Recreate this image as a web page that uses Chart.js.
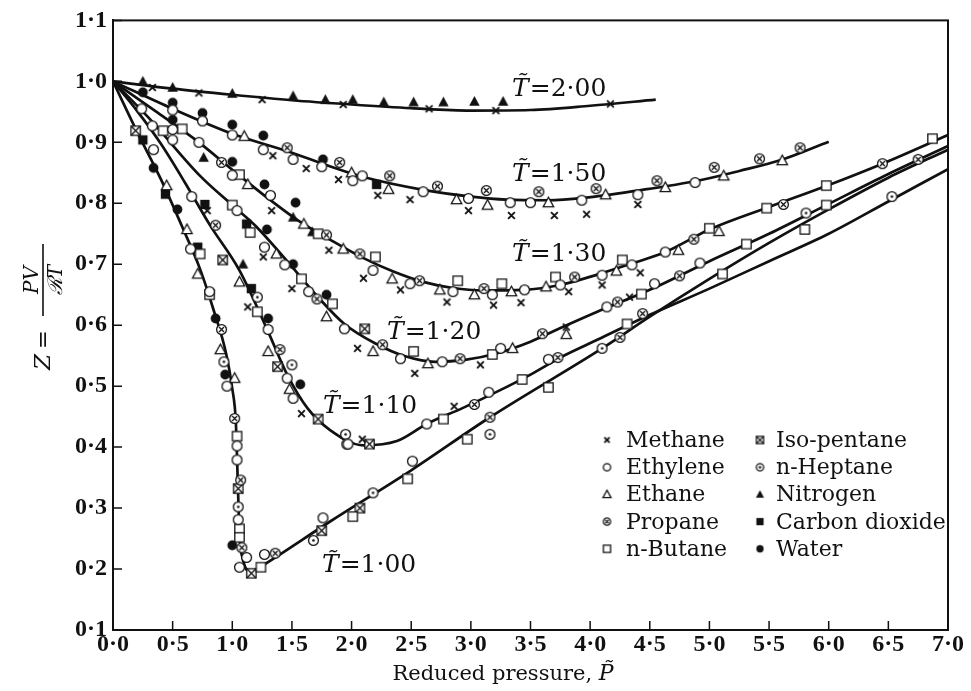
<!DOCTYPE html>
<html>
<head>
<meta charset="utf-8">
<script src="https://cdn.jsdelivr.net/npm/chart.js@4.4.1/dist/chart.umd.min.js"></script>
<style>
  html, body { margin: 0; padding: 0; background: #fff; }
  #wrap { width: 971px; height: 691px; }
</style>
</head>
<body>
<div id="wrap"><canvas id="zChart" width="971" height="691"></canvas></div>
<script>
// isotherms (reduced temperature), smooth curves
var t200X = [0, 0.5, 1.0, 1.5, 2.0, 2.5, 3.0, 3.5, 4.0, 4.55];
var t200Y = [1.0, 0.988, 0.978, 0.969, 0.962, 0.956, 0.952, 0.953, 0.96, 0.970];

var t150X = [0, 0.5, 1.0, 1.5, 1.8, 2.1, 2.6, 3.0, 3.3, 3.65, 3.95, 4.4, 4.9, 5.25, 5.6, 6.0];
var t150Y = [1.0, 0.955, 0.914, 0.883, 0.862, 0.843, 0.822, 0.811, 0.806, 0.805, 0.809, 0.821, 0.837, 0.853, 0.871, 0.901];

var t130X = [0, 0.35, 0.72, 1.0, 1.3, 1.55, 1.84, 2.1, 2.35, 2.6, 2.85, 3.1, 3.44, 3.75, 4.06, 4.33, 4.63, 5.0, 5.5, 6.0, 6.45, 7.0];
var t130Y = [1.0, 0.952, 0.9, 0.855, 0.808, 0.772, 0.738, 0.71, 0.688, 0.671, 0.661, 0.657, 0.658, 0.666, 0.683, 0.70, 0.72, 0.757, 0.794, 0.83, 0.865, 0.912];

var t120X = [0, 0.3, 0.73, 1.0, 1.2, 1.46, 1.71, 1.94, 2.2, 2.45, 2.7, 2.95, 3.22, 3.5, 3.77, 4.06, 4.5, 5.0, 5.5, 6.0, 6.5, 7.0];
var t120Y = [1.0, 0.94, 0.845, 0.797, 0.762, 0.705, 0.648, 0.602, 0.57, 0.549, 0.54, 0.543, 0.554, 0.573, 0.597, 0.622, 0.658, 0.705, 0.75, 0.799, 0.848, 0.894];

var t110X = [0, 0.2, 0.4, 0.6, 0.81, 1.06, 1.29, 1.46, 1.63, 1.82, 2.1, 2.38, 2.63, 2.93, 3.22, 3.5, 3.77, 4.06, 4.5, 5.0, 5.5, 6.0, 6.5, 7.0];
var t110Y = [1.0, 0.952, 0.898, 0.835, 0.765, 0.69, 0.594, 0.519, 0.464, 0.428, 0.403, 0.41, 0.438, 0.464, 0.491, 0.519, 0.549, 0.576, 0.617, 0.66, 0.705, 0.75, 0.803, 0.856];

var t100X = [0, 0.2, 0.4, 0.59, 0.73, 0.84, 0.95, 1.0, 1.03, 1.045, 1.06, 1.09, 1.16, 1.24, 1.82, 2.5, 3.16, 4.1, 4.5, 5.0, 5.5, 6.0, 6.5, 7.0];
var t100Y = [1.0, 0.918, 0.84, 0.757, 0.692, 0.627, 0.552, 0.496, 0.44, 0.35, 0.26, 0.215, 0.195, 0.204, 0.278, 0.362, 0.449, 0.562, 0.614, 0.676, 0.735, 0.79, 0.842, 0.888];

// curve labels: text and anchor (data units, left end / baseline)
var curveNames = ['2·00', '1·50', '1·30', '1·20', '1·10', '1·00'];
var curveLabelX = [3.345, 3.345, 3.345, 2.297, 1.76, 1.752];
var curveLabelY = [0.976, 0.837, 0.705, 0.578, 0.456, 0.195];

// measured points, [reduced pressure, Z]
var methane = [[0.33,0.99],[0.72,0.981],[1.25,0.97],[1.93,0.962],[2.65,0.955],[3.21,0.952],[4.17,0.963],
  [1.34,0.878],[1.62,0.857],[1.89,0.839],[2.22,0.813],[2.49,0.806],[2.98,0.788],[3.34,0.78],[3.7,0.78],[3.97,0.782],[4.4,0.798],
  [1.33,0.788],[1.81,0.723],[2.1,0.677],[2.41,0.658],[2.8,0.638],[3.19,0.633],[3.42,0.637],[3.82,0.655],[4.1,0.666],[4.42,0.686],
  [1.26,0.712],[1.5,0.66],[2.05,0.562],[2.53,0.521],[3.08,0.535],[3.8,0.597],[4.33,0.646],
  [0.79,0.788],[1.13,0.63],[1.58,0.455],[2.09,0.413],[2.86,0.467]];
var ethylene = [[0.5,0.953],[0.75,0.935],[1.0,0.912],[1.26,0.888],[1.51,0.872],[1.75,0.86],[2.01,0.837],[2.09,0.845],[2.6,0.819],[2.98,0.808],[3.33,0.801],[3.5,0.801],[3.93,0.805],[4.4,0.814],[4.88,0.834],
  [0.24,0.955],[0.5,0.921],[0.72,0.9],[1.0,0.846],[1.32,0.813],[2.18,0.69],[2.49,0.668],[2.85,0.655],[3.18,0.65],[3.45,0.658],[3.75,0.666],[4.1,0.682],[4.35,0.699],[4.63,0.72],
  [0.33,0.927],[0.5,0.904],[1.04,0.788],[1.27,0.728],[1.44,0.699],[1.64,0.655],[1.94,0.594],[2.41,0.545],[2.76,0.54],[3.25,0.562],[4.14,0.63],[4.54,0.668],[4.92,0.702],
  [0.34,0.888],[0.66,0.811],[1.3,0.593],[1.46,0.513],[1.51,0.48],[1.97,0.405],[2.63,0.438],[3.15,0.49],[3.65,0.544],
  [0.65,0.725],[0.81,0.655],[0.955,0.5],[1.04,0.402],[1.04,0.379],[1.05,0.281],[1.06,0.203],[1.12,0.219],[1.27,0.224],[1.76,0.284],[2.51,0.377]];
var ethane = [[1.1,0.91],[2.0,0.85],[2.31,0.823],[2.88,0.806],[3.14,0.797],[3.65,0.801],[4.13,0.814],[4.63,0.826],[5.12,0.845],[5.61,0.87],
  [1.13,0.831],[1.6,0.766],[1.93,0.725],[2.34,0.676],[2.74,0.658],[3.03,0.65],[3.34,0.655],[3.63,0.663],[4.22,0.689],[4.74,0.723],[5.08,0.754],
  [1.37,0.717],[1.79,0.614],[2.18,0.557],[2.64,0.537],[3.35,0.562],[3.8,0.585],
  [1.06,0.671],[1.3,0.557],[1.48,0.495],
  [0.45,0.829],[0.62,0.757],[0.71,0.684],[0.9,0.56],[1.02,0.513]];
var propane = [[1.46,0.891],[1.9,0.867],[2.32,0.845],[2.72,0.828],[3.13,0.821],[3.57,0.819],[4.05,0.824],[4.56,0.837],[5.04,0.859],[5.42,0.873],[5.76,0.891],
  [0.91,0.867],[1.79,0.748],[2.07,0.717],[2.57,0.673],[3.11,0.66],[3.87,0.679],[4.87,0.741],[5.62,0.798],[6.45,0.865],
  [1.71,0.643],[2.26,0.568],[2.91,0.545],[3.6,0.586],[4.23,0.638],[4.75,0.681],[6.75,0.872],
  [0.86,0.764],[1.4,0.56],[1.96,0.405],[3.03,0.47],[3.73,0.547],
  [0.91,0.593],[1.02,0.447],[1.07,0.346],[1.08,0.235],[1.36,0.226],[3.16,0.449],[4.25,0.58],[4.44,0.619]];
var butane = [[0.58,0.922],[1.06,0.847],[1.72,0.75],[2.2,0.712],[2.89,0.673],[3.26,0.668],[3.71,0.679],[4.27,0.707],[5.0,0.759],[5.48,0.792],[5.98,0.829],[6.87,0.906],
  [0.42,0.919],[1.0,0.797],[1.15,0.752],[1.58,0.676],[1.84,0.635],[2.52,0.557],[3.18,0.552],[4.43,0.651],[5.31,0.733],[5.98,0.797],
  [1.21,0.622],[2.77,0.446],[3.43,0.511],[4.31,0.602],
  [0.73,0.717],[0.81,0.65],[1.04,0.418],[1.06,0.266],[1.06,0.252],[1.24,0.203],[2.01,0.286],[2.47,0.348],[2.97,0.413],[3.65,0.498],[5.11,0.684],[5.8,0.757]];
var isopentane = [[0.19,0.919],[0.92,0.707],[1.38,0.532],[1.72,0.446],[2.15,0.405],[2.11,0.594],[1.05,0.332],[1.16,0.193],[2.07,0.30],[1.75,0.263]];
var heptane = [[1.21,0.646],[1.5,0.535],[1.95,0.421],[0.93,0.54],[1.05,0.302],[1.68,0.247],[2.18,0.325],[3.16,0.421],[4.1,0.562],[6.53,0.811],[5.81,0.784]];
var nitrogen = [[0.25,1.0],[0.5,0.99],[1.0,0.98],[1.51,0.976],[1.78,0.97],[2.01,0.97],[2.27,0.966],[2.52,0.966],[2.77,0.966],[3.03,0.967],[3.27,0.967],[1.51,0.777],[1.67,0.753],[0.76,0.875],[1.09,0.70]];
var carbonDioxide = [[2.21,0.831],[1.12,0.766],[1.16,0.66],[0.25,0.904],[0.77,0.798],[0.44,0.815],[0.71,0.728]];
var water = [[0.25,0.982],[0.5,0.965],[0.75,0.948],[1.0,0.929],[1.26,0.911],[1.76,0.872],[0.5,0.937],[1.0,0.868],[1.27,0.831],[1.53,0.801],[1.29,0.757],[1.51,0.70],[1.79,0.65],[1.3,0.611],[1.57,0.503],[0.34,0.858],[0.54,0.79],[0.86,0.611],[0.94,0.519],[1.0,0.239]];

var substances = ['Methane', 'Ethylene', 'Ethane', 'Propane', 'n-Butane', 'Iso-pentane', 'n-Heptane', 'Nitrogen', 'Carbon dioxide', 'Water'];
var markerKinds = ['cross', 'circle', 'triangle', 'circleX', 'square', 'squareX', 'circleDot', 'triFill', 'squareFill', 'circleFill'];
var pointSets = [methane, ethylene, ethane, propane, butane, isopentane, heptane, nitrogen, carbonDioxide, water];

var ink = '#111';

// small canvases used as point styles
function makeMarker(kind, s) {
  var w = Math.ceil(s + 4);
  var c = document.createElement('canvas');
  c.width = w; c.height = w;
  var g = c.getContext('2d');
  var m = w / 2, r = s / 2;
  g.strokeStyle = ink; g.fillStyle = '#fff'; g.lineWidth = 1.3;
  if (kind === 'cross') {
    var k = r * 0.75;
    g.lineWidth = 1.9;
    g.beginPath();
    g.moveTo(m - k, m - k); g.lineTo(m + k, m + k);
    g.moveTo(m + k, m - k); g.lineTo(m - k, m + k);
    g.stroke();
  } else if (kind === 'circle' || kind === 'circleX' || kind === 'circleDot' || kind === 'circleFill') {
    g.beginPath(); g.arc(m, m, r - 0.6, 0, Math.PI * 2);
    if (kind === 'circleFill') { g.fillStyle = ink; g.fill(); }
    else { g.fill(); g.stroke(); }
    if (kind === 'circleX') {
      var q = r * 0.45;
      g.beginPath();
      g.moveTo(m - q, m - q); g.lineTo(m + q, m + q);
      g.moveTo(m + q, m - q); g.lineTo(m - q, m + q);
      g.stroke();
    }
    if (kind === 'circleDot') {
      g.fillStyle = ink; g.beginPath(); g.arc(m, m, 1.3, 0, Math.PI * 2); g.fill();
    }
  } else if (kind === 'triangle' || kind === 'triFill') {
    g.beginPath();
    g.moveTo(m, m - r); g.lineTo(m + r * 0.95, m + r * 0.75); g.lineTo(m - r * 0.95, m + r * 0.75); g.closePath();
    if (kind === 'triFill') { g.fillStyle = ink; g.fill(); }
    else { g.fill(); g.stroke(); }
  } else {
    var h = r * 0.85;
    g.beginPath(); g.rect(m - h, m - h, h * 2, h * 2);
    if (kind === 'squareFill') { g.fillStyle = ink; g.fill(); }
    else { g.fill(); g.stroke(); }
    if (kind === 'squareX') {
      g.beginPath();
      g.moveTo(m - h, m - h); g.lineTo(m + h, m + h);
      g.moveTo(m + h, m - h); g.lineTo(m - h, m + h);
      g.stroke();
    }
  }
  return c;
}

function toXY(xs, ys) {
  return xs.map(function (x, i) { return { x: x, y: ys[i] }; });
}

var datasets = [];
// points first so they sit on top of the curves
for (var i = 0; i < pointSets.length; i++) {
  datasets.push({
    type: 'scatter',
    label: substances[i],
    data: pointSets[i].map(function (p) { return { x: p[0], y: p[1] }; }),
    pointStyle: makeMarker(markerKinds[i], markerKinds[i] === 'cross' ? 9 : 11),
    pointRadius: 5,
    showLine: false
  });
}
var curves = [[t200X, t200Y], [t150X, t150Y], [t130X, t130Y], [t120X, t120Y], [t110X, t110Y], [t100X, t100Y]];
curves.forEach(function (cv, j) {
  datasets.push({
    type: 'line',
    label: 'T ' + curveNames[j],
    data: toXY(cv[0], cv[1]),
    borderColor: ink,
    borderWidth: 2.7,
    pointRadius: 0,
    fill: false,
    cubicInterpolationMode: 'monotone'
  });
});

function dotLabel(v) { return v.toFixed(1).replace('.', '·'); }

// inward ticks + closed frame
var framePlugin = {
  id: 'framePlugin',
  afterDraw: function (chart) {
    var ctx = chart.ctx, a = chart.chartArea;
    var xs = chart.scales.x, ys = chart.scales.y;
    ctx.save();
    ctx.strokeStyle = ink;
    ctx.lineWidth = 2;
    ctx.strokeRect(a.left, a.top, a.right - a.left, a.bottom - a.top);
    ctx.lineWidth = 1.5;
    ctx.beginPath();
    ys.ticks.forEach(function (t) {
      var py = ys.getPixelForValue(t.value);
      ctx.moveTo(a.left, py); ctx.lineTo(a.left + 9, py);
    });
    xs.ticks.forEach(function (t) {
      var px = xs.getPixelForValue(t.value);
      ctx.moveTo(px, a.bottom); ctx.lineTo(px, a.bottom - 9);
    });
    ctx.stroke();
    ctx.restore();
  }
};

// axis titles, curve labels, legend
var textPlugin = {
  id: 'textPlugin',
  afterDraw: function (chart) {
    var ctx = chart.ctx, a = chart.chartArea;
    var xs = chart.scales.x, ys = chart.scales.y;
    ctx.save();
    ctx.fillStyle = ink;

    // curve labels
    ctx.textBaseline = 'alphabetic';
    ctx.textAlign = 'left';
    curveNames.forEach(function (nm, j) {
      var px = xs.getPixelForValue(curveLabelX[j]);
      var py = ys.getPixelForValue(curveLabelY[j]);
      ctx.font = 'italic 25px "DejaVu Serif"';
      ctx.fillText('T\u0303', px, py);
      var w = ctx.measureText('T').width;
      ctx.font = '25px "DejaVu Serif"';
      ctx.fillText('=' + nm, px + w + 1, py);
    });

    // x title
    ctx.font = '21px "DejaVu Serif"';
    var t1 = 'Reduced pressure, ';
    var w1 = ctx.measureText(t1).width;
    ctx.font = 'italic 22px "DejaVu Serif"';
    var w2 = ctx.measureText('P').width;
    var sx = 503 - (w1 + w2) / 2;
    ctx.font = '21px "DejaVu Serif"';
    ctx.fillText(t1, sx, 680);
    ctx.font = 'italic 22px "DejaVu Serif"';
    ctx.fillText('P\u0303', sx + w1, 680);

    // y title: Z = PV / RT, rotated
    ctx.save();
    ctx.translate(a.left - 70, 300);
    ctx.rotate(-Math.PI / 2);
    ctx.textAlign = 'center';
    ctx.textBaseline = 'middle';
    ctx.font = 'italic 23px "DejaVu Serif"';
    ctx.fillText('Z\u2009=', -50, 1);
    ctx.font = 'italic 20px "DejaVu Serif"';
    ctx.textBaseline = 'alphabetic';
    ctx.fillText('PV', 20, -5);
    ctx.textBaseline = 'top';
    ctx.fillText('\u211BT', 20, 4);
    ctx.lineWidth = 1.5;
    ctx.beginPath(); ctx.moveTo(-16, 0); ctx.lineTo(56, 0); ctx.stroke();
    ctx.restore();

    // legend, two columns
    ctx.font = '22px "DejaVu Serif"';
    ctx.textAlign = 'left';
    ctx.textBaseline = 'alphabetic';
    for (var k = 0; k < substances.length; k++) {
      var col = k < 5 ? 0 : 1, row = k % 5;
      var mx = col === 0 ? 607 : 760;
      var tx = col === 0 ? 626 : 776;
      var by = 447 + row * 27.2;
      var mk = makeMarker(markerKinds[k], markerKinds[k] === 'cross' ? 7 : 8.5);
      ctx.drawImage(mk, mx - mk.width / 2, by - 7 - mk.height / 2);
      ctx.fillText(substances[k], tx, by);
    }
    ctx.restore();
  }
};

var tickFont = { family: 'Liberation Serif', size: 24, weight: 'bold' };

new Chart(document.getElementById('zChart').getContext('2d'), {
  type: 'scatter',
  data: { datasets: datasets },
  options: {
    responsive: false,
    animation: false,
    devicePixelRatio: 1,
    layout: { padding: { top: 15, right: 23, bottom: 0, left: 0 } },
    plugins: {
      legend: { display: false },
      tooltip: { enabled: false },
      title: { display: false }
    },
    scales: {
      x: {
        type: 'linear', min: 0, max: 7,
        ticks: { stepSize: 0.5, font: tickFont, color: ink, padding: 0, maxRotation: 0, autoSkip: false, callback: dotLabel },
        grid: { display: false, drawTicks: false },
        border: { display: true, color: ink, width: 2 },
        afterFit: function (s) { s.height = 61; }
      },
      y: {
        type: 'linear', min: 0.1, max: 1.1,
        ticks: { stepSize: 0.1, font: tickFont, color: ink, padding: 6, autoSkip: false, callback: dotLabel },
        grid: { display: false, drawTicks: false },
        border: { display: true, color: ink, width: 2 },
        afterFit: function (s) { s.width = 113; }
      }
    }
  },
  plugins: [framePlugin, textPlugin]
});
</script>
</body>
</html>
